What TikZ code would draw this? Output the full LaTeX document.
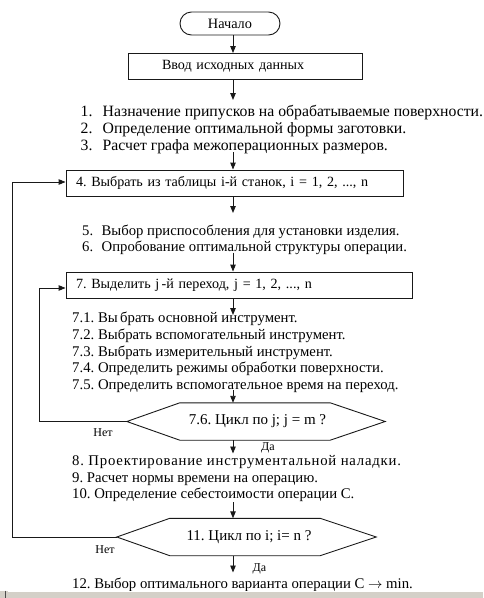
\documentclass[tikz,border=0pt]{standalone}
\usepackage{fontspec}
\setmainfont{Liberation Serif}
\usetikzlibrary{arrows.meta,shapes.misc,calc}
\definecolor{ln}{RGB}{25,25,25}
\definecolor{barcol}{RGB}{212,208,200}
\begin{document}
\frenchspacing
\begin{tikzpicture}[x=1pt,y=-1pt,
  every node/.style={inner sep=0pt,text=black},
  fs/.style={font=\fontsize{#1}{17}\selectfont\frenchspacing},
  txt/.style={fs=14.75,anchor=base west},
  small/.style={font=\fontsize{12}{14}\selectfont},
  box/.style={draw=ln,line width=0.9pt,minimum height=26pt,text width=#1,align=left,fs=14.1},
  term/.style={draw=ln,line width=0.9pt,rounded rectangle,minimum width=100pt,minimum height=23pt,fs=14.3},
  hexa/.style={minimum width=#1,minimum height=37pt,fs=15},
  arr/.style={draw=ln,line width=0.9pt,-{Triangle[length=7pt,width=5.5pt]}},
  ln/.style={draw=ln,line width=0.9pt}
]
\useasboundingbox (0,0) rectangle (483,598);
\coordinate (ax) at (233,0);
\coordinate (c1) at (39,0);
\coordinate (c2) at (12,0);

\node[term] (start) at (230,23.5) {Начало};
\node[box=234pt] (in) at (245,66.5) {\hspace*{34pt}Ввод исходных данных};

\node[txt,fs=15.75] (l1) at (80.5,116.5) {\makebox[22pt][l]{1.}Назначение припусков на обрабатываемые поверхности.};
\node[txt,fs=15.75] (l2) at (80.5,133) {\makebox[22pt][l]{2.}Определение оптимальной формы заготовки.};
\node[txt,fs=15.75] (l3) at (80.5,150) {\makebox[22pt][l]{3.}Расчет графа межоперационных размеров.};

\node[box=337pt] (b4) at (234.5,183) {\hspace*{10pt}4. Выбрать из таблицы i-й станок, i = 1, 2, ..., n};

\node[txt,fs=14.7] (l5) at (82,235.5) {\makebox[19.5pt][l]{5.}Выбор приспособления для установки изделия.};
\node[txt,fs=14.7] (l6) at (82,251.5) {\makebox[19.5pt][l]{6.}Опробование оптимальной структуры операции.};

\node[box=346pt] (b7) at (239,285) {\hspace*{10pt}7. Выделить j\,-й переход, j = 1, 2, ..., n};

\node[txt] (l71) at (72,322.5) {7.1. Вы\,брать основной инструмент.};
\node[txt] (l72) at (72,339.5) {7.2. Выбрать вспомогательный инструмент.};
\node[txt] (l73) at (72,356) {7.3. Выбрать измерительный инструмент.};
\node[txt] (l74) at (72,372.5) {7.4. Определить режимы обработки поверхности.};
\node[txt] (l75) at (72,389.5) {7.5. Определить вспомогательное время на переход.};

\node[hexa=258pt] (h1) at (256,421.5) {\hspace*{3pt}7.6. Цикл по j; j = m ?};
\draw[ln] (h1.west) -- ($(h1.north west)+(53,0)$) -- ($(h1.north east)+(-55,0)$) -- (h1.east)
  -- ($(h1.south east)+(-55,0)$) -- ($(h1.south west)+(53,0)$) -- cycle;
\node[small] (n1) at (103,433) {Нет};
\node[small] (d1) at (268,448) {Да};

\node[txt,font=\fontsize{14.75}{17}\selectfont\frenchspacing\addfontfeature{LetterSpace=5.3}] (l8) at (72,465.5) {8. Проектирование инструментальной наладки.};
\node[txt] (l9) at (72,482) {9. Расчет нормы времени на операцию.};
\node[txt] (l10) at (72,498.5) {10. Определение себестоимости операции С.};

\node[hexa=259pt] (h2) at (246.5,537) {\hspace*{5pt}11. Цикл по i; i= n ?};
\draw[ln] (h2.west) -- ($(h2.north west)+(53,0)$) -- ($(h2.north east)+(-56,0)$) -- (h2.east)
  -- ($(h2.south east)+(-56,0)$) -- ($(h2.south west)+(53,0)$) -- cycle;
\node[small] (n2) at (105,550) {Нет};
\node[small] (d2) at (259.5,569) {Да};

\node[txt] (l12) at (72,588.5) {12. Выбор оптимального варианта операции С $\rightarrow$ min.};

% main flow arrows
\draw[arr] (start.south -| ax) -- (in.north -| ax);
\draw[arr] (in.south -| ax) -- ($(l1.base -| ax)+(0,-16.5)$);
\draw[arr] ($(l3.base -| ax)+(0,2)$) -- (b4.north -| ax);
\draw[arr] (b4.south -| ax) -- ($(l5.base -| ax)+(0,-22.5)$);
\draw[arr] ($(l6.base -| ax)+(0,1)$) -- (b7.north -| ax);
\draw[arr] (b7.south -| ax) -- ($(l71.base -| ax)+(0,-7.5)$);
\draw[arr] ($(l75.base -| ax)+(0,0.5)$) -- (h1.north -| ax);
\draw[arr] (h1.south -| ax) -- ($(l8.base -| ax)+(0,-12)$);
\draw[arr] ($(l10.base -| ax)+(0,3.5)$) -- (h2.north -| ax);
\draw[arr] (h2.south -| ax) -- ($(l12.base -| ax)+(0,-16)$);

% loops
\draw[arr] (h1.west) -- (h1.west -| c1) |- ($(b7.west)+(0,3)$);
\draw[arr] (h2.west) -- (h2.west -| c2) |- ($(b4.west)+(0,-1)$);

% window strip
\fill[barcol] (0,590.5) rectangle (483,598);
\draw[white,line width=0.8pt] (8,591) -- (483,591);
\draw[black!70,line width=1pt] (5,590.5) -- (5,598);
\end{tikzpicture}
\end{document}
